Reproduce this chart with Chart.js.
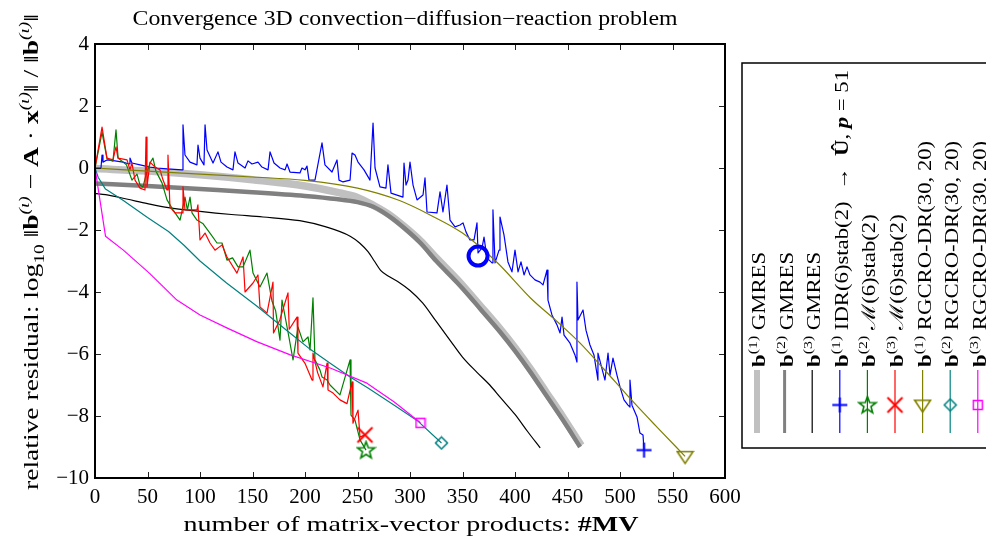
<!DOCTYPE html>
<html><head><meta charset="utf-8">
<script src="https://cdn.jsdelivr.net/npm/chart.js@4.4.0/dist/chart.umd.min.js"></script>
<style>html,body{margin:0;padding:0;background:#fff;}</style>
</head><body>
<canvas id="c" width="986" height="544"></canvas>
<script>
// ---------- data ----------
const xTicks = [0,50,100,150,200,250,300,350,400,450,500,550,600];
const yTicks = [4,2,0,-2,-4,-6,-8,-10];

const gmresB1 = [[0,-0.02],[50,-0.1],[100,-0.22],[150,-0.38],[200,-0.58],[230,-0.78],[250,-0.95],[265,-1.2],[280,-1.5],[295,-1.9],[310,-2.35],[325,-2.9],[345,-3.6],[367,-4.45],[386,-5.2],[400,-5.8],[415,-6.5],[430,-7.25],[445,-8.0],[463,-8.95]];
const gmresB2 = [[0,-0.5],[50,-0.58],[100,-0.68],[150,-0.78],[200,-0.9],[230,-1.0],[250,-1.1],[265,-1.25],[280,-1.55],[295,-1.95],[310,-2.42],[325,-3.0],[345,-3.7],[357,-4.15],[367,-4.55],[386,-5.3],[400,-5.9],[415,-6.6],[430,-7.35],[445,-8.1],[462,-9.0]];
const gmresB3 = [[0,-0.82],[10,-0.86],[30,-1.0],[50,-1.15],[70,-1.28],[100,-1.4],[130,-1.5],[160,-1.58],[195,-1.7],[220,-1.9],[243,-2.2],[252,-2.42],[260,-2.7],[266,-3.0],[272,-3.3],[280,-3.5],[290,-3.7],[300,-3.95],[312,-4.35],[325,-4.95],[338,-5.55],[350,-6.1],[364,-6.6],[376,-7.0],[386,-7.4],[400,-7.95],[412,-8.5],[424,-9.03]];
const idrB1 = [[0,0],[5.7,0],[6.7,0.42],[7.6,0.19],[11.4,0.26],[19,0.23],[26.7,0.19],[32.4,0.13],[33.3,0.32],[35.2,0.16],[42.9,0.10],[52.4,0.03],[59,0],[68.6,-0.03],[82.9,-0.06],[83.8,1.39],[85.7,0.42],[90.5,0.19],[97.1,0.10],[98.1,0.74],[100,0.32],[103.8,0.10],[104.8,1.39],[106.7,0.58],[112.4,0.16],[117.1,0.52],[120,0.19],[125.7,0.03],[131.4,-0.06],[133.3,0.52],[136.2,0.16],[142.9,0],[145.7,0.23],[149.5,0.13],[155.2,0.19],[159,0.03],[164.8,-0.06],[166.7,0.52],[170.5,0.16],[176.2,0],[181,-0.06],[182.9,0.13],[185.7,-0.13],[195.2,-0.16],[197.1,0],[200,-0.06],[201.9,0.06],[203.8,-0.39],[209.5,-0.39],[216.2,0.81],[219,0.10],[225.7,-0.13],[230.5,0.26],[232.4,-0.39],[236.2,-0.45],[242.9,-0.39],[244.8,0.48],[247.6,0.42],[250.5,0.19],[256.2,-0.06],[261.9,-0.39],[264.8,1.45],[266.7,0],[271.4,-0.61],[277.1,-0.65],[279,0.10],[281.9,-0.81],[293.3,-0.94],[294.3,0.16],[296.2,-0.55],[298.1,-0.39],[300,0.19],[302.9,-0.55],[306.7,-1.03],[312.4,-0.87],[314.3,-0.32],[316.2,-1.42],[325.7,-1.45],[328.6,-0.77],[331.4,-1.42],[335.2,-0.55],[338.1,-1.68],[342.9,-1.90],[347.6,-1.84],[350.5,-1.77],[353.3,-2.06],[357.1,-2.32],[361,-2.32],[363.8,-1.77],[364.8,-2.74],[368.6,-2.58],[370.5,-2.23],[373.3,-2.90],[378.1,-3.06],[379,-1.35],[381,-3.06],[384.8,-2.65],[385.7,-1.58],[389.5,-2.16],[393.3,-3.03],[397.1,-3.35],[400,-2.65],[402.9,-3.35],[405.7,-3.03],[408.6,-3.45],[411.4,-3.19],[414.3,-3.45],[419,-3.61],[423.8,-3.68],[426.7,-3.77],[430.5,-3.29],[431.4,-4.26],[435.2,-4.74],[440,-5.06],[442.9,-5.32],[444.8,-4.81],[446.7,-5.39],[452.4,-5.65],[457.1,-6.03],[459,-6.26],[459,-3.68],[460,-4.90],[464.8,-4.58],[467.6,-5.23],[471.4,-5.71],[475.2,-6.03],[479,-6.84],[479,-5.97],[481.9,-6.35],[485.7,-6.84],[488.6,-5.97],[490.5,-6.68],[493.3,-6.13],[497.1,-6.68],[500,-7.06],[503.8,-7.48],[507.6,-7.65],[509.5,-7.71],[509.5,-6.84],[511.4,-7.65],[516.2,-8.03],[519,-8.55],[521.9,-8.61],[522.9,-9.10]];
const mB2 = [[0,0],[6.7,1.15],[11.4,0.3],[17.1,0.22],[20,1.23],[22,0.32],[30,0.1],[35.2,-0.39],[40,-0.2],[42.9,-0.55],[45.7,-0.61],[48,-0.3],[52.4,0.16],[55.2,0.32],[58,-0.1],[63.8,-0.48],[68.6,-1.03],[74.3,-1.35],[81,-1.68],[85.7,-0.94],[88,-1.35],[90.5,-0.94],[92.4,-1.45],[97.1,-1.68],[103,-1.8],[109.5,-2.1],[116.2,-2.42],[121,-2.42],[125.7,-2.97],[131,-2.9],[136.2,-3.19],[141,-3.19],[147.6,-2.65],[150.5,-3.39],[157.1,-3.84],[163.8,-3.39],[168.6,-4.3],[172,-4.6],[176.2,-5.55],[178.1,-4.26],[183.8,-5.29],[188.6,-6.19],[193.3,-5.13],[198.1,-5.61],[202.9,-5.45],[204.8,-5.87],[207.6,-4.19],[209.5,-6.19],[214.3,-6.52],[216.2,-6.74],[221,-6.84],[223.8,-7.0],[233.3,-7.32],[242.9,-6.19],[243.8,-7.97],[247.6,-8.13],[252.4,-8.77],[258.1,-9.1]];
const mB3 = [[0,0],[6.7,1.32],[11.4,0.32],[17.1,0.26],[20,0.68],[21.9,0.32],[30.5,0.26],[33.3,-0.06],[35.2,0.16],[38.1,-0.39],[42.9,-0.65],[47.6,-0.71],[48.6,1.0],[49.5,-0.61],[52.4,0.19],[57.1,0.03],[61.9,-0.06],[64.8,-0.39],[68.6,-0.71],[69.5,0.42],[71.4,-1.26],[76.2,-1.45],[82.9,-1.45],[83.8,-0.61],[85.7,-1.35],[97.1,-1.35],[98,-1.19],[100,-2.32],[104.8,-2.1],[109.5,-2.42],[114.3,-2.65],[121,-2.48],[125.7,-2.87],[135.2,-3.39],[141,-2.87],[142.9,-4.0],[150.5,-3.71],[155.2,-3.45],[157.1,-4.48],[163.8,-4.68],[169.5,-3.68],[170,-5.32],[176,-4.9],[183.8,-4.03],[185,-5.2],[192.4,-4.81],[193.3,-5.97],[200,-6.3],[206.7,-6.84],[207.6,-5.97],[212,-6.6],[217.1,-7.06],[221,-6.29],[221.9,-7.16],[226.7,-7.26],[233.3,-7.48],[240,-7.6],[244.8,-6.9],[245.7,-8.23],[250.5,-7.81],[252.4,-8.68],[257.1,-8.61]];
const rgB1 = [[0,0],[50,-0.1],[100,-0.2],[150,-0.29],[200,-0.4],[250,-0.65],[290,-1.05],[320,-1.53],[350,-2.1],[383,-3.05],[415,-4.2],[440,-4.95],[462,-5.65],[485,-6.5],[510,-7.45],[535,-8.35],[562,-9.3]];
const rgB2 = [[0,0],[3,-0.3],[10,-0.68],[27,-1.05],[50,-1.6],[70,-2.05],[85,-2.5],[100,-3.0],[125,-3.7],[154,-4.45],[183,-5.25],[205,-5.85],[224,-6.3],[243,-6.74],[260,-7.1],[285,-7.65],[307,-8.15],[330,-8.87]];
const rgB3 = [[0,0],[10,-2.2],[27,-2.65],[52,-3.4],[78,-4.26],[100,-4.74],[125,-5.15],[154,-5.6],[186,-6.03],[224,-6.45],[259,-6.94],[285,-7.55],[310,-8.22]];
const switchPoint = [[364.8,-2.84]];
const legendLabels = [
  ['(1)','GMRES'],['(2)','GMRES'],['(3)','GMRES'],
  ['(1)','IDR(6)stab(2)'],['(2)','\u2133(6)stab(2)'],['(3)','\u2133(6)stab(2)'],
  ['(1)','RGCRO-DR(30, 20)'],['(2)','RGCRO-DR(30, 20)'],['(3)','RGCRO-DR(30, 20)']
];

// ---------- markers ----------
function mk(type, color, size, lw){
  const c = document.createElement('canvas');
  c.width = size; c.height = size;
  const g = c.getContext('2d');
  g.strokeStyle = color; g.lineWidth = lw; g.lineJoin='miter';
  const m = size/2, r = size/2 - lw;
  g.beginPath();
  if (type==='plus'){ g.moveTo(m,lw/2);g.lineTo(m,size-lw/2);g.moveTo(lw/2,m);g.lineTo(size-lw/2,m); }
  else if (type==='x'){ g.moveTo(m-r,m-r);g.lineTo(m+r,m+r);g.moveTo(m+r,m-r);g.lineTo(m-r,m+r); }
  else if (type==='tri'){ g.moveTo(m-r,m-r*0.6);g.lineTo(m+r,m-r*0.6);g.lineTo(m,m+r*0.9);g.closePath(); }
  else if (type==='diamond'){ g.moveTo(m,m-r);g.lineTo(m+r,m);g.lineTo(m,m+r);g.lineTo(m-r,m);g.closePath(); }
  else if (type==='square'){ g.rect(m-r,m-r,2*r,2*r); }
  else if (type==='star'){
    for(let i=0;i<10;i++){ const a=-Math.PI/2+i*Math.PI/5; const rr=i%2?r*0.42:r; const px=m+rr*Math.cos(a), py=m+rr*Math.sin(a)+0.5; i?g.lineTo(px,py):g.moveTo(px,py);} g.closePath();
  }
  g.stroke();
  return c;
}
const M = {
  plus: mk('plus','#0000ff',17,2),
  star: mk('star','#008000',21,1.6),
  x: mk('x','#ff0000',19,2),
  tri: mk('tri','#808000',19,1.6),
  diamond: mk('diamond','#008080',15,1.5),
  square: mk('square','#ff00ff',12,1.5)
};

const toXY = a => a.map(p=>({x:p[0],y:p[1]}));
const lastOnly = (r)=> (ctx)=> ctx.dataIndex === ctx.dataset.data.length-1 ? r : 0;

const series = [
  {data:gmresB1,color:'#c0c0c0',w:7.5,marker:null,smooth:true},
  {data:gmresB2,color:'#808080',w:4.5,marker:null,smooth:true},
  {data:gmresB3,color:'#000000',w:1.2,marker:null,smooth:true},
  {data:idrB1,color:'#0000ff',w:1.2,marker:'plus'},
  {data:mB2,color:'#008000',w:1.2,marker:'star'},
  {data:mB3,color:'#ff0000',w:1.2,marker:'x'},
  {data:rgB1,color:'#808000',w:1.2,marker:'tri',smooth:true},
  {data:rgB2,color:'#008080',w:1.2,marker:'diamond'},
  {data:rgB3,color:'#ff00ff',w:1.2,marker:'square'}
];

const datasets = series.map((s,i)=>({
  data: toXY(s.data), showLine:true, borderColor:s.color, borderWidth:s.w,
  pointStyle: s.marker ? M[s.marker] : false,
  pointRadius: s.marker ? lastOnly(6) : 0,
  pointHoverRadius:0, fill:false,
  tension: s.smooth ? 0.4 : 0, cubicInterpolationMode: s.smooth ? 'monotone' : 'default',
  borderCapStyle:'butt', borderJoinStyle:'round',
  order: 20 - i
}));
datasets.push({
  data: toXY(switchPoint), showLine:false, pointStyle:'circle', pointRadius:9.5,
  pointBorderWidth:4, pointBorderColor:'#0000ff', pointBackgroundColor:'rgba(0,0,0,0)', order:0
});

// ---------- rich text ----------
const SERIF = '"Liberation Serif", "DejaVu Serif", serif';
function fontOf(p,size){ const fs=(p.sup||p.sub)?size*0.7:size; return (p.italic?'italic ':'')+(p.bold?'bold ':'')+fs+'px '+SERIF; }
function measureRich(ctx, parts, size){
  let x=0; for (const p of parts){ ctx.font=fontOf(p,size); x+=ctx.measureText(p.t).width; } return x;
}
function drawRich(ctx, parts, size, target){
  const nat = measureRich(ctx, parts, size);
  const k = target ? target/nat : 1;
  ctx.save(); ctx.scale(k,1);
  let x = 0;
  for (const p of parts){
    ctx.font = fontOf(p,size);
    const dy = p.sup ? -size*0.42 : (p.sub ? size*0.25 : 0);
    ctx.fillText(p.t, x, dy);
    x += ctx.measureText(p.t).width;
  }
  ctx.restore();
  return nat*k;
}

const decor = {
  id:'decor',
  afterDraw(chart){
    const ctx = chart.ctx, a = chart.chartArea;
    const xs = chart.scales.x, ys = chart.scales.y;
    ctx.save();
    ctx.strokeStyle = '#222'; ctx.lineWidth = 1;
    ctx.beginPath();
    for (const t of xTicks){ const px = Math.round(xs.getPixelForValue(t))+0.5;
      ctx.moveTo(px,a.bottom); ctx.lineTo(px,a.bottom-6); ctx.moveTo(px,a.top); ctx.lineTo(px,a.top+6); }
    for (const t of yTicks){ const py = Math.round(ys.getPixelForValue(t))+0.5;
      ctx.moveTo(a.left,py); ctx.lineTo(a.left+6,py); ctx.moveTo(a.right,py); ctx.lineTo(a.right-6,py); }
    ctx.stroke();
    ctx.strokeStyle = '#000'; ctx.lineWidth = 2;
    ctx.strokeRect(a.left, a.top, a.right-a.left, a.bottom-a.top);

    ctx.fillStyle = '#000'; ctx.textBaseline = 'alphabetic'; ctx.textAlign = 'left';
    const tParts = [{t:'Convergence 3D convection\u2212diffusion\u2212reaction problem'}];
    ctx.save(); ctx.translate(405 - 545/2, 25); drawRich(ctx,tParts,20,545); ctx.restore();
    const xParts = [{t:'number of matrix-vector products: '},{t:'#MV',bold:true}];
    ctx.save(); ctx.translate(411 - 455/2, 531); drawRich(ctx,xParts,22,455); ctx.restore();
    const yParts = [{t:'relative residual: log'},{t:'10',sub:true},{t:' \u2016'},{t:'b',bold:true},{t:'(\u03b9)',sup:true,italic:true},
      {t:' \u2212 '},{t:'A',bold:true},{t:' \u00b7 '},{t:'x',bold:true},{t:'(\u03b9)',sup:true,italic:true},{t:'\u2016 / \u2016'},{t:'b',bold:true},{t:'(\u03b9)',sup:true,italic:true},{t:'\u2016'}];
    ctx.save(); ctx.translate(38, 252 + 476/2); ctx.rotate(-Math.PI/2); drawRich(ctx,yParts,22,476); ctx.restore();

    const L = {x:742, y:63, b:448};
    ctx.strokeStyle = '#000'; ctx.lineWidth = 1.5;
    ctx.strokeRect(L.x, L.y, 300, L.b-L.y);
    const labelParts = legendLabels.map((lab,i)=>{
      let parts = [{t:'b',bold:true},{t:lab[0],sup:true},{t:' '+lab[1]}];
      if (i===3) parts = parts.concat([{t:'  \u2192  '},{t:'\u00db',bold:true},{t:', '},{t:'p',bold:true,italic:true},{t:' = 51'}]);
      return parts;
    });
    const kLeg = 297 / measureRich(ctx,labelParts[3],19);
    for (let i=0;i<series.length;i++){
      const s = series[i]; const cx = 757 + i*27.6;
      ctx.strokeStyle = s.color; ctx.lineWidth = s.w>3 ? s.w-1.5 : s.w;
      ctx.beginPath(); ctx.moveTo(cx,370); ctx.lineTo(cx,433); ctx.stroke();
      if (s.marker){ const im = M[s.marker]; ctx.drawImage(im, cx-im.width/2, 405-im.height/2); }
      ctx.fillStyle = '#000';
      const w = measureRich(ctx,labelParts[i],19)*kLeg;
      ctx.save(); ctx.translate(cx+8, 367); ctx.rotate(-Math.PI/2); drawRich(ctx,labelParts[i],19,w); ctx.restore();
    }
    ctx.restore();
  }
};

Chart.defaults.font.family = SERIF;
new Chart(document.getElementById('c'), {
  type:'scatter',
  data:{datasets},
  options:{
    responsive:false, animation:false, devicePixelRatio:1,
    layout:{padding:{left:0,right:261,top:44,bottom:0}},
    plugins:{legend:{display:false},title:{display:false},tooltip:{enabled:false}},
    scales:{
      x:{type:'linear',min:0,max:600,
        afterBuildTicks:(s)=>{s.ticks = xTicks.map(v=>({value:v}));},
        afterFit:(s)=>{s.height=66;},
        grid:{display:false,drawTicks:false}, border:{display:false},
        ticks:{color:'#000',font:{size:21,family:SERIF},padding:7,maxRotation:0,autoSkip:false,
          callback:(v)=> v<0 ? '\u2212'+Math.abs(v) : ''+v}},
      y:{type:'linear',min:-10,max:4,
        afterBuildTicks:(s)=>{s.ticks = yTicks.map(v=>({value:v}));},
        afterFit:(s)=>{s.width=95;},
        grid:{display:false,drawTicks:false}, border:{display:false},
        ticks:{color:'#000',font:{size:21,family:SERIF},padding:6,autoSkip:false,
          callback:(v)=> v<0 ? '\u2212'+Math.abs(v) : ''+v}}
    }
  },
  plugins:[decor]
});
</script>
</body></html>
